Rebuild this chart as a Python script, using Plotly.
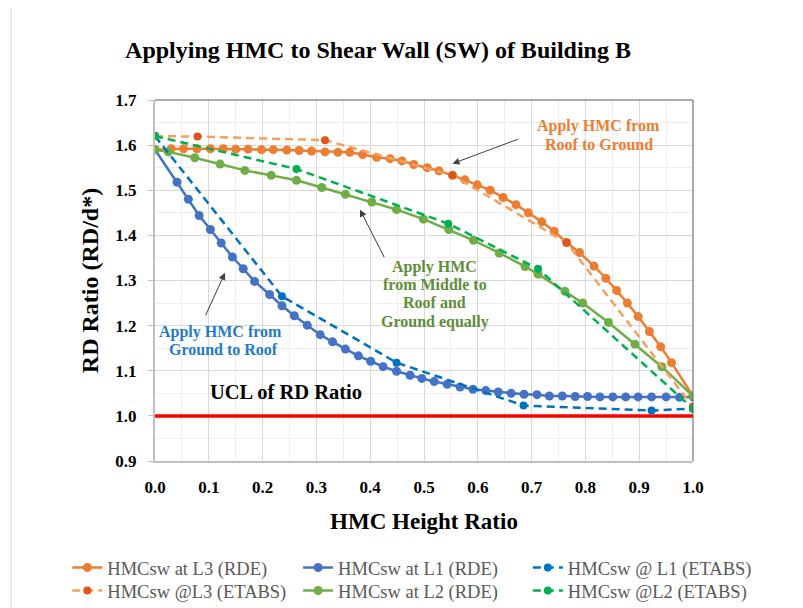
import plotly.graph_objects as go

# ---------------- data ----------------
l3_rde_x = [0.0, 0.03, 0.053, 0.078, 0.103, 0.127, 0.15, 0.173, 0.198, 0.22, 0.245, 0.268, 0.291, 0.316, 0.34,
            0.362, 0.386, 0.412, 0.437, 0.459, 0.481, 0.506, 0.528, 0.553, 0.576, 0.599, 0.623, 0.647, 0.671, 0.694,
            0.719, 0.742, 0.765, 0.789, 0.816, 0.838, 0.858, 0.878, 0.898, 0.919, 0.94, 0.96, 1.0]
l3_rde_y = [1.59, 1.592, 1.592, 1.592, 1.592, 1.592, 1.591, 1.591, 1.59, 1.59, 1.589, 1.588, 1.587, 1.585, 1.584,
            1.584, 1.579, 1.573, 1.570, 1.565, 1.557, 1.550, 1.543, 1.533, 1.523, 1.512, 1.500, 1.484, 1.468, 1.450,
            1.430, 1.409, 1.384, 1.362, 1.332, 1.305, 1.278, 1.250, 1.220, 1.187, 1.153, 1.118, 1.044]

l1_rde_x = [0.0, 0.041, 0.062, 0.082, 0.103, 0.123, 0.144, 0.164, 0.185, 0.213, 0.236, 0.259, 0.283, 0.307, 0.330,
            0.354, 0.378, 0.401, 0.424, 0.449, 0.474, 0.496, 0.519, 0.543, 0.567, 0.591, 0.615, 0.638, 0.662, 0.686,
            0.710, 0.733, 0.757, 0.781, 0.804, 0.827, 0.851, 0.875, 0.898, 0.923, 0.950, 0.975, 1.0]
l1_rde_y = [1.59, 1.518, 1.480, 1.444, 1.413, 1.383, 1.352, 1.326, 1.298, 1.269, 1.244, 1.222, 1.201, 1.180, 1.164,
            1.148, 1.133, 1.121, 1.109, 1.099, 1.090, 1.083, 1.076, 1.070, 1.064, 1.059, 1.056, 1.053, 1.050, 1.048,
            1.047, 1.044, 1.044, 1.043, 1.043, 1.042, 1.042, 1.042, 1.042, 1.042, 1.042, 1.041, 1.042]

l2_rde_x = [0.0, 0.025, 0.074, 0.121, 0.167, 0.216, 0.263, 0.31, 0.354, 0.403, 0.449, 0.499, 0.546, 0.592, 0.640,
            0.688, 0.712, 0.762, 0.795, 0.843, 0.892, 0.942, 1.0]
l2_rde_y = [1.59, 1.585, 1.572, 1.558, 1.544, 1.533, 1.522, 1.506, 1.491, 1.474, 1.457, 1.436, 1.413, 1.389, 1.361,
            1.331, 1.314, 1.276, 1.250, 1.207, 1.159, 1.109, 1.044]

l1_etabs_x = [0.0, 0.236, 0.449, 0.685, 0.923, 1.0]
l1_etabs_y = [1.62, 1.265, 1.118, 1.023, 1.012, 1.016]

l3_etabs_x = [0.0, 0.079, 0.316, 0.553, 0.765, 1.0]
l3_etabs_y = [1.62, 1.619, 1.611, 1.533, 1.384, 1.02]

l2_etabs_x = [0.0, 0.263, 0.545, 0.712, 1.0]
l2_etabs_y = [1.62, 1.547, 1.426, 1.326, 1.016]

ucl_x = [0.0, 1.0]
ucl_y = [1.0, 1.0]

x_ticks = [0.0, 0.1, 0.2, 0.3, 0.4, 0.5, 0.6, 0.7, 0.8, 0.9, 1.0]
y_ticks = [0.9, 1.0, 1.1, 1.2, 1.3, 1.4, 1.5, 1.6, 1.7]

SERIF = "Liberation Serif, Times New Roman, serif"

fig = go.Figure()

fig.add_trace(go.Scatter(x=ucl_x, y=ucl_y, mode="lines", line=dict(color="#FF0000", width=3.5),
                         showlegend=False, hoverinfo="skip"))

def rde(x, y, name, color, legend):
    return go.Scatter(x=x, y=y, name=name, mode="lines+markers", legend=legend,
                      line=dict(color=color, width=2.5), marker=dict(color=color, size=9))

def etabs(x, y, name, lcolor, mcolor, legend):
    return go.Scatter(x=x, y=y, name=name, mode="lines+markers", legend=legend,
                      line=dict(color=lcolor, width=2.5, dash="8px,5px"),
                      marker=dict(color=mcolor, size=8))

fig.add_trace(rde(l3_rde_x, l3_rde_y, "HMCsw at L3 (RDE)", "#ED7D31", "legend"))
fig.add_trace(rde(l1_rde_x, l1_rde_y, "HMCsw at L1 (RDE)", "#4472C4", "legend2"))
fig.add_trace(rde(l2_rde_x, l2_rde_y, "HMCsw at L2 (RDE)", "#70AD47", "legend5"))
fig.add_trace(etabs(l1_etabs_x, l1_etabs_y, "HMCsw @ L1 (ETABS)", "#0070C0", "#0070C0", "legend3"))
fig.add_trace(etabs(l3_etabs_x, l3_etabs_y, "HMCsw @L3 (ETABS)", "#F4A05E", "#E2531B", "legend4"))
fig.add_trace(etabs(l2_etabs_x, l2_etabs_y, "HMCsw @L2 (ETABS)", "#00B050", "#00B050", "legend6"))

leg_font = dict(family=SERIF, size=18.5, color="#595959")
col_x = [-0.163, 0.266, 0.693]
row_y = [-0.2964, -0.360]

def leg(ix, iy):
    return dict(x=col_x[ix], y=row_y[iy], xanchor="left", yanchor="middle", orientation="v",
                font=leg_font, bgcolor="rgba(0,0,0,0)", itemwidth=30)

# the page adds an 8px body margin, so the figure is sized/offset to compensate
fig.update_layout(
    width=795, height=600,
    margin=dict(l=147, r=110, t=92, b=147, autoexpand=False),
    paper_bgcolor="white", plot_bgcolor="white",
    title=dict(text="<b>Applying HMC to Shear Wall (SW) of Building B</b>",
               font=dict(family=SERIF, size=24, color="black"),
               x=370 / 795, xanchor="center", y=1 - 42 / 600, yanchor="middle"),
    legend=leg(0, 0), legend2=leg(1, 0), legend3=leg(2, 0),
    legend4=leg(0, 1), legend5=leg(1, 1), legend6=leg(2, 1),
    xaxis=dict(range=[0, 1], tickvals=x_ticks, tickformat=".1f",
               tickfont=dict(family=SERIF, size=17, color="black", weight="bold"),
               showgrid=True, gridcolor="#D9D9D9", gridwidth=1,
               minor=dict(dtick=0.05, showgrid=True, gridcolor="#EEEEEE", gridwidth=1),
               showline=True, linecolor="#BFBFBF", linewidth=2,
               ticks="", ticklabelstandoff=10, zeroline=False,
               title=dict(text="<b>HMC Height Ratio</b>", font=dict(family=SERIF, size=23, color="black"),
                          standoff=16)),
    yaxis=dict(range=[0.9, 1.7], tickvals=y_ticks, tickformat=".1f",
               tickfont=dict(family=SERIF, size=17, color="black", weight="bold"),
               showgrid=True, gridcolor="#D9D9D9", gridwidth=1,
               minor=dict(dtick=0.05, showgrid=True, gridcolor="#EEEEEE", gridwidth=1),
               showline=True, linecolor="#BFBFBF", linewidth=2,
               ticks="outside", ticklen=5, tickcolor="#BFBFBF", ticklabelstandoff=8, zeroline=False,
               title=dict(text="<b>RD Ratio (RD/d*)</b>", font=dict(family=SERIF, size=24, color="black"),
                          standoff=10)),
    showlegend=True,
)

# plot-area top/right border and chart-area left border
fig.add_shape(type="line", xref="paper", yref="paper", x0=0, x1=1, y0=1, y1=1,
              line=dict(color="#595959", width=1))
fig.add_shape(type="line", xref="paper", yref="paper", x0=1, x1=1, y0=0, y1=1,
              line=dict(color="#595959", width=1))
fig.add_shape(type="line", xref="paper", yref="paper", x0=-144 / 538, x1=-144 / 538, y0=-0.45, y1=1.3,
              line=dict(color="#D9D9D9", width=1))

ann_font = dict(family=SERIF, size=16)
orange_lines = ["Apply HMC from", "Roof to Ground"]
green_lines = ["Apply HMC", "from Middle to", "Roof and", "Ground equally"]
blue_lines = ["Apply HMC from", "Ground to Roof"]

for txt, yy in zip(orange_lines, [1.642, 1.602]):
    fig.add_annotation(x=0.825, y=yy, text=f"<b>{txt}</b>", showarrow=False,
                       font=dict(color="#ED7D31", **ann_font))
for txt, yy in zip(green_lines, [1.331, 1.291, 1.251, 1.209]):
    fig.add_annotation(x=0.52, y=yy, text=f"<b>{txt}</b>", showarrow=False,
                       font=dict(color="#5E8E3A", **ann_font))
for txt, xx, yy in zip(blue_lines, [0.121, 0.127], [1.185, 1.146]):
    fig.add_annotation(x=xx, y=yy, text=f"<b>{txt}</b>", showarrow=False,
                       font=dict(color="#1F7BC8", **ann_font))
fig.add_annotation(x=0.2426, y=1.054, text="<b>UCL of RD Ratio</b>", showarrow=False,
                   font=dict(family=SERIF, size=20.5, color="black"))

arrow = dict(showarrow=True, text="", arrowhead=2, arrowsize=1.4, arrowwidth=1, arrowcolor="#404040",
             axref="pixel", ayref="pixel")
fig.add_annotation(x=0.553, y=1.559, ax=67, ay=-25, **arrow)
fig.add_annotation(x=0.381, y=1.457, ax=25, ay=49, **arrow)
fig.add_annotation(x=0.130, y=1.317, ax=-20, ay=44, **arrow)

fig.write_html("out.html")
